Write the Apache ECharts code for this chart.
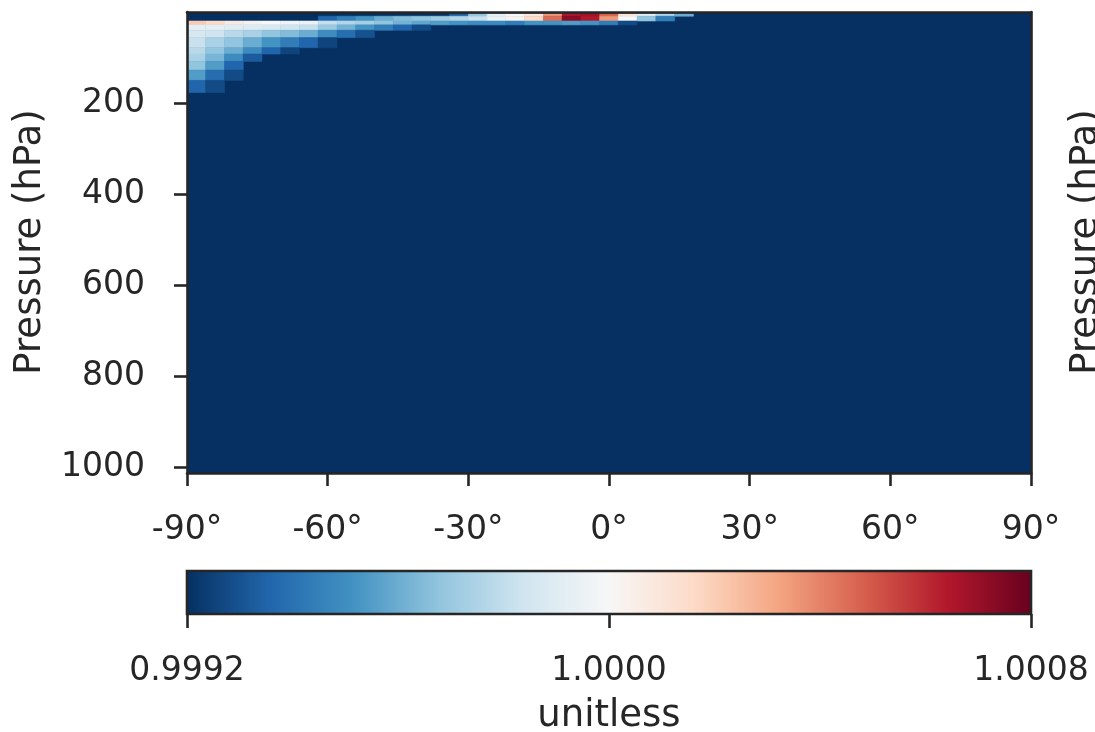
<!DOCTYPE html>
<html>
<head>
<meta charset="utf-8">
<script src="https://cdn.jsdelivr.net/npm/echarts@6/dist/echarts.min.js"></script>
<style>html,body{margin:0;padding:0;background:#fff;}#c{width:1095px;height:732px;}</style>
</head>
<body>
<div id="c"></div>
<script>
// ---- data ----
const latEdges = [-90,-86,-82,-78,-74,-70,-66,-62,-58,-54,-50,-46,-42,-38,-34,-30,-26,-22,-18,-14,-10,-6,-2,2,6,10,14,18,22,26,30,34,38,42,46,50,54,58,62,66,70,74,78,82,86,90];
// pressure level edges (hPa), top to bottom, for the rows listed in `rowValues`
const presEdges = [4.077, 9.293, 19.792, 28.368, 40.175, 56.388, 78.512, 92.366, 108.663, 127.837, 150.393, 176.930];
const presTop = 0.01, presBottom = 1013.25;
// value of everything not listed (below colour range, dark blue)
const backgroundValue = 0.9990;
// rows of values, one per pressure layer, starting at the southernmost latitude column
const rowValues = [
  [0.9990,0.9990,0.9990,0.9990,0.9990,0.9990,0.9990,0.9990,0.9990,0.9990,0.9990,0.9990,0.9990,0.9990,0.99933,0.99968,0.99992,1.00000,1.00008,1.00035,1.00064,1.00067,1.00048,1.00013,0.99992,0.99976,0.99960],
  [0.9990,0.9990,0.9990,0.9990,0.9990,0.9990,0.9990,0.99936,0.99944,0.99952,0.99960,0.99965,0.99968,0.99971,0.99976,0.99982,0.99995,1.00003,1.00016,1.00045,1.00072,1.00064,1.00035,1.00000,0.99968,0.99944],
  [1.00021,1.00016,1.00008,1.00003,1.00000,0.99997,0.99995,0.99981,0.99976,0.99973,0.99968,0.99962,0.99958,0.99955,0.99952,0.99949,0.99949,0.99944,0.99952,0.99952,0.99955,0.99952,0.99944,0.99928],
  [0.99992,0.99992,0.99990,0.99989,0.99987,0.99984,0.99981,0.99970,0.99962,0.99952,0.99944,0.99936,0.99928],
  [0.99987,0.99984,0.99978,0.99974,0.99968,0.99965,0.99960,0.99949,0.99939,0.99930],
  [0.99982,0.99974,0.99968,0.99960,0.99952,0.99944,0.99936,0.99926],
  [0.99978,0.99968,0.99960,0.99949,0.99936,0.99926],
  [0.99974,0.99963,0.99949,0.99933],
  [0.99968,0.99955,0.99936],
  [0.99955,0.99939,0.99928],
  [0.99936,0.99928]
];
const xTicks = [-90,-60,-30,0,30,60,90];
const yTicks = [200,400,600,800,1000];
const cbarTicks = [0.9992,1.0000,1.0008];
const vmin = 0.9992, vmax = 1.0008;
const cmap = ['#053061','#2166ac','#4393c3','#92c5de','#d1e5f0','#f7f7f7','#fddbc7','#f4a582','#d6604d','#b2182b','#67001f'];

// ---- build cells ----
const clamp = v => Math.max(vmin, Math.min(vmax, v));
const cells = [[latEdges[0], latEdges[latEdges.length-1], presTop, presBottom, clamp(backgroundValue)]];
rowValues.forEach((row, r) => {
  row.forEach((v, c) => {
    cells.push([latEdges[c], latEdges[c+1], presEdges[r], presEdges[r+1], clamp(v)]);
  });
});

const TXT = '#262626', FONT = 'DejaVu Sans';
const chart = echarts.init(document.getElementById('c'), null, {renderer:'canvas'});
const lineAx = {show:true, onZero:false, lineStyle:{color:TXT, width:2.6}};
chart.setOption({
  animation:false,
  backgroundColor:'#ffffff',
  grid:[
    {left:187, top:12, width:844, height:461, outerBoundsMode:'none', containLabel:false},
    {left:187, top:571, width:844, height:43, outerBoundsMode:'none', containLabel:false}
  ],
  visualMap:{type:'continuous', show:false, min:vmin, max:vmax, dimension:4, seriesIndex:0, inRange:{color:cmap}},
  xAxis:[
    {gridIndex:0, type:'value', min:-90, max:90, interval:30, position:'bottom', z:10,
     axisLine:lineAx, axisTick:{show:true, inside:false, length:13, lineStyle:{color:TXT, width:2.6}, customValues:xTicks},
     axisLabel:{show:true, fontSize:33, color:TXT, fontFamily:FONT, margin:41, customValues:xTicks, formatter:v=>v+'°'},
     splitLine:{show:false}},
    {gridIndex:0, type:'value', min:-90, max:90, position:'top', z:10, axisLine:lineAx, axisTick:{show:false}, axisLabel:{show:false}, splitLine:{show:false}},
    {gridIndex:1, type:'value', min:vmin, max:vmax, position:'bottom', z:10,
     axisLine:{show:false, onZero:false}, axisTick:{show:true, inside:false, length:14, lineStyle:{color:TXT, width:2.6}, customValues:cbarTicks},
     axisLabel:{show:true, fontSize:33, color:TXT, fontFamily:FONT, margin:41, customValues:cbarTicks, formatter:v=>v.toFixed(4)},
     splitLine:{show:false},
     name:'unitless', nameLocation:'middle', nameGap:84, nameTextStyle:{fontSize:37, color:TXT, fontFamily:FONT}}
  ],
  yAxis:[
    {gridIndex:0, type:'value', inverse:true, min:0, max:presBottom, z:10,
     axisLine:lineAx, axisTick:{show:true, inside:false, length:13, lineStyle:{color:TXT, width:2.6}, customValues:yTicks},
     axisLabel:{show:true, fontSize:33, color:TXT, fontFamily:FONT, margin:42, customValues:yTicks, formatter:v=>String(v)},
     splitLine:{show:false}},
    {gridIndex:0, type:'value', inverse:true, min:0, max:presBottom, position:'right', z:10, axisLine:lineAx, axisTick:{show:false}, axisLabel:{show:false}, splitLine:{show:false}},
    {gridIndex:1, type:'value', min:0, max:1, show:false}
  ],
  graphic:[
    {type:'text', x:30, y:242, rotation:Math.PI/2, style:{text:'Pressure (hPa)', fontSize:37, fill:TXT, fontFamily:FONT, align:'center', verticalAlign:'middle'}},
    {type:'text', x:1086, y:242, rotation:Math.PI/2, style:{text:'Pressure (hPa)', fontSize:37, fill:TXT, fontFamily:FONT, align:'center', verticalAlign:'middle'}}
  ],
  series:[
    {type:'custom', xAxisIndex:0, yAxisIndex:0, clip:true, data:cells, encode:{x:[0,1], y:[2,3]},
     renderItem:function(params, api){
       const a = api.coord([api.value(0), api.value(2)]);
       const b = api.coord([api.value(1), api.value(3)]);
       const col = api.visual('color');
       return {type:'rect', shape:{x:Math.min(a[0],b[0]), y:Math.min(a[1],b[1]), width:Math.abs(b[0]-a[0]), height:Math.abs(b[1]-a[1])},
               style:{fill:col, stroke:col, lineWidth:0.6}};
     }},
    {type:'custom', xAxisIndex:2, yAxisIndex:2, data:[[vmin, vmax]], encode:{x:[0,1]},
     renderItem:function(params, api){
       const a = api.coord([api.value(0), 1]);
       const b = api.coord([api.value(1), 0]);
       const stops = cmap.map((c,i)=>({offset:i/(cmap.length-1), color:c}));
       return {type:'rect', shape:{x:a[0], y:a[1], width:b[0]-a[0], height:b[1]-a[1]},
               style:{fill:new echarts.graphic.LinearGradient(0,0,1,0,stops), stroke:TXT, lineWidth:2.6}};
     }}
  ]
});
</script>
</body>
</html>
